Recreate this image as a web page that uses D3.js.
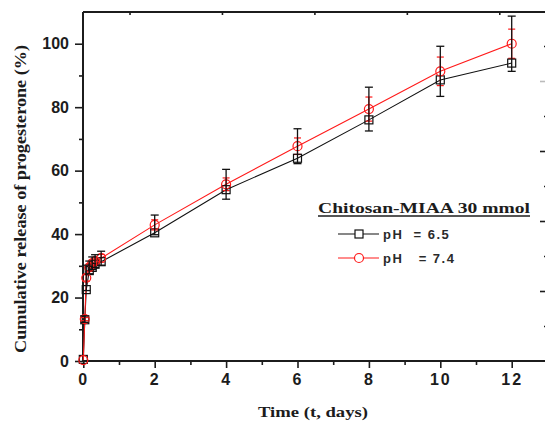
<!DOCTYPE html>
<html><head><meta charset="utf-8">
<script src="https://cdn.jsdelivr.net/npm/d3@7"></script>
<style>html,body{margin:0;padding:0;background:#fff;overflow:hidden}</style>
</head><body>
<svg id="c" width="545" height="424"></svg>
<script>
// ---- data ----
const times = [0, 0.042, 0.083, 0.167, 0.25, 0.33, 0.5, 2, 4, 6, 8, 10, 12];
const ph65 = [0.5, 13, 22.5, 28.5, 29.5, 30.5, 31.3, 40.4, 54.0, 63.9, 76.0, 88.6, 93.9];
const ph74 = [0.3, 13.2, 26.2, 29.5, 30.8, 31.5, 32.4, 42.9, 55.7, 67.7, 79.4, 91.3, 100.0];
const errBlack = [0, 1, 4, 2, 2, 2, 2.2, 3.1, 4.7, 5.5, 6.9, 7.9, 8.7];
const errRed = [0, 0.5, 1, 1, 1, 1, 1.2, 1.6, 2.0, 2.6, 3.8, 4.5, 4.6];
const xTicks = [0, 2, 4, 6, 8, 10, 12];
const yTicks = [0, 20, 40, 60, 80, 100];
const legendTitle = "Chitosan-MIAA 30 mmol";
const seriesNames = ["pH  = 6.5", "pH   = 7.4"];

const svg = d3.select("#c");
const x = d3.scaleLinear().domain([0, 13]).range([83.3, 547.4]);
const y = d3.scaleLinear().domain([0, 110]).range([361, 12]);
const xTop = d3.scaleLinear().domain([0, 10]).range([83.3, 545.5]);
const yRight = d3.scaleLinear().domain([0, 100]).range([361, 11]);
const ink = "#1c1c1c";

// frame lines
svg.append("line").attr("x1", 83).attr("x2", 545).attr("y1", 12).attr("y2", 12).attr("stroke", ink).attr("stroke-width", 1.8);

// bottom axis
const gx = svg.append("g").attr("transform", "translate(0,361)");
gx.call(d3.axisBottom(x).tickValues(d3.range(1, 13, 2)).tickSize(4).tickFormat(""));
gx.call(g => g.select(".domain").remove());
const gx2 = svg.append("g").attr("transform", "translate(0,361)");
gx2.call(d3.axisBottom(x).tickValues(xTicks).tickSize(7).tickPadding(6).tickFormat(d3.format("d")));
gx2.select(".domain").attr("d", "M83,0H545");
[gx, gx2].forEach(g => { g.selectAll("line").attr("stroke", ink).attr("stroke-width", 1.6); g.select(".domain").attr("stroke", ink).attr("stroke-width", 2); });
gx2.selectAll("text").attr("font-family", "Liberation Sans, Arial, sans-serif").attr("font-weight", "bold").attr("font-size", 16).attr("letter-spacing", 2).attr("fill", ink);

// left axis
const gy = svg.append("g").attr("transform", "translate(83,0)");
gy.call(d3.axisLeft(y).tickValues(d3.range(10, 110, 20)).tickSize(4).tickFormat(""));
gy.call(g => g.select(".domain").remove());
const gy2 = svg.append("g").attr("transform", "translate(83,0)");
gy2.call(d3.axisLeft(y).tickValues(yTicks).tickSize(8).tickPadding(6).tickFormat(d3.format("d")));
gy2.select(".domain").attr("d", "M0,12V362");
[gy, gy2].forEach(g => { g.selectAll("line").attr("stroke", ink).attr("stroke-width", 1.6); g.select(".domain").attr("stroke", ink).attr("stroke-width", 2); });
gy2.selectAll("text").attr("font-family", "Liberation Sans, Arial, sans-serif").attr("font-weight", "bold").attr("font-size", 16).attr("fill", ink);

// top axis (inward ticks)
const gt = svg.append("g").attr("transform", "translate(0,12)");
gt.call(d3.axisBottom(xTop).tickValues(d3.range(0, 11, 2)).tickSize(6).tickFormat(""));
gt.call(d3.axisBottom(xTop).tickValues(d3.range(1, 11, 2)).tickSize(3).tickFormat(""));
gt.selectAll(".domain").remove();
gt.selectAll("line").attr("stroke", ink).attr("stroke-width", 1.6);

// right axis (cut off, inward ticks)
const gr = svg.append("g").attr("transform", "translate(546,0)");
gr.append("g").call(d3.axisLeft(yRight).tickValues(d3.range(20, 100, 20)).tickSize(6).tickFormat(""));
gr.append("g").call(d3.axisLeft(yRight).tickValues(d3.range(10, 100, 20)).tickSize(2).tickFormat(""));
gr.selectAll(".domain").remove();
gr.selectAll("line").attr("stroke", ink).attr("stroke-width", 1.6);
gr.select("g:last-child").selectAll("line").attr("stroke", "#bbb");

// axis titles
svg.append("text").attr("transform", "translate(26,199) rotate(-90)").attr("text-anchor", "middle")
  .attr("font-family", "Liberation Serif, Times New Roman, serif").attr("font-weight", "bold").attr("font-size", 16)
  .attr("textLength", 308).attr("lengthAdjust", "spacingAndGlyphs").attr("fill", ink)
  .text("Cumulative release of progesterone (%)");
svg.append("text").attr("x", 313).attr("y", 417).attr("text-anchor", "middle")
  .attr("font-family", "Liberation Serif, Times New Roman, serif").attr("font-weight", "bold").attr("font-size", 15)
  .attr("textLength", 110).attr("lengthAdjust", "spacingAndGlyphs").attr("fill", ink)
  .text("Time (t, days)");

// data
const d65 = times.map((t, i) => ({t, v: ph65[i]}));
const d74 = times.map((t, i) => ({t, v: ph74[i], eb: errBlack[i], er: errRed[i]}));
const line = d3.line().x(d => x(d.t)).y(d => y(d.v));

svg.append("path").datum(d65).attr("d", line).attr("fill", "none").attr("stroke", "#111").attr("stroke-width", 1.1);
svg.append("path").datum(d74).attr("d", line).attr("fill", "none").attr("stroke", "#ff1a1a").attr("stroke-width", 1.1);

// red error bars
const eR = svg.append("g").attr("stroke", "#ff1a1a").attr("stroke-width", 1.2);
d74.forEach(d => {
  if (!d.er) return;
  const cx = x(d.t);
  eR.append("line").attr("x1", cx).attr("x2", cx).attr("y1", y(d.v - d.er)).attr("y2", y(d.v + d.er));
  [d.v - d.er, d.v + d.er].forEach(v => eR.append("line").attr("x1", cx - 3.5).attr("x2", cx + 3.5).attr("y1", y(v)).attr("y2", y(v)));
});

// square markers
svg.append("g").selectAll("rect").data(d65).join("rect")
  .attr("x", d => x(d.t) - 4).attr("y", d => y(d.v) - 4).attr("width", 8).attr("height", 8)
  .attr("fill", "none").attr("stroke", "#111").attr("stroke-width", 1.2);

// circle markers
svg.append("g").selectAll("circle").data(d74).join("circle")
  .attr("cx", d => x(d.t)).attr("cy", d => y(d.v)).attr("r", 4.5)
  .attr("fill", "none").attr("stroke", "#ff1a1a").attr("stroke-width", 1.2);

// black error bars
const eB = svg.append("g").attr("stroke", "#111").attr("stroke-width", 1.3);
d74.forEach(d => {
  if (!d.eb) return;
  const cx = x(d.t);
  eB.append("line").attr("x1", cx).attr("x2", cx).attr("y1", y(d.v - d.eb)).attr("y2", y(d.v + d.eb));
  [d.v - d.eb, d.v + d.eb].forEach(v => eB.append("line").attr("x1", cx - 4).attr("x2", cx + 4).attr("y1", y(v)).attr("y2", y(v)));
});

// legend
const lg = svg.append("g");
lg.append("text").attr("x", 318).attr("y", 213)
  .attr("font-family", "Liberation Serif, Times New Roman, serif").attr("font-weight", "bold").attr("font-size", 15)
  .attr("textLength", 212).attr("lengthAdjust", "spacingAndGlyphs").attr("fill", ink).text(legendTitle);
lg.append("line").attr("x1", 318).attr("x2", 530).attr("y1", 216).attr("y2", 216).attr("stroke", ink).attr("stroke-width", 1.4);
const ly = [234, 258];
lg.append("line").attr("x1", 338).attr("x2", 379).attr("y1", ly[0]).attr("y2", ly[0]).attr("stroke", "#111").attr("stroke-width", 1.1);
lg.append("rect").attr("x", 355).attr("y", ly[0] - 4).attr("width", 8).attr("height", 8).attr("fill", "#fff").attr("stroke", "#111").attr("stroke-width", 1.2);
lg.append("line").attr("x1", 338).attr("x2", 379).attr("y1", ly[1]).attr("y2", ly[1]).attr("stroke", "#ff1a1a").attr("stroke-width", 1.1);
lg.append("circle").attr("cx", 359).attr("cy", ly[1]).attr("r", 4.5).attr("fill", "#fff").attr("stroke", "#ff1a1a").attr("stroke-width", 1.2);
seriesNames.forEach((s, i) => {
  lg.append("text").attr("x", 383).attr("y", ly[i] + 5).attr("xml:space", "preserve").style("white-space", "pre")
    .attr("font-family", "Liberation Sans, Arial, sans-serif").attr("font-weight", "bold").attr("font-size", 13)
    .attr("letter-spacing", 1.5).attr("fill", "#2a2a2a").text(s);
});
</script>
</body></html>
